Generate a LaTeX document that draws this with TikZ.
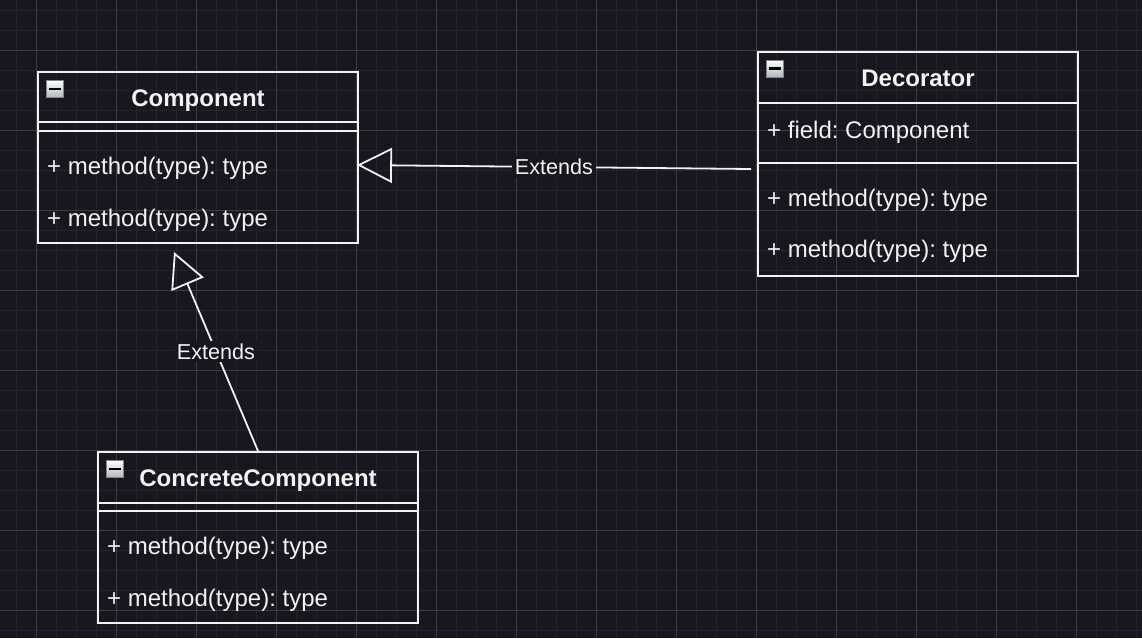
\documentclass[tikz,border=0pt]{standalone}
\usepackage{fontspec}
\setmainfont{Liberation Sans}
\frenchspacing
\usetikzlibrary{arrows.meta}

\definecolor{canvasbg}{HTML}{18161E}
\definecolor{minorgrid}{HTML}{25242A}
\definecolor{majorgrid}{HTML}{3D3C40}
\definecolor{umlwhite}{HTML}{F2F2F2}
\definecolor{iconrim}{HTML}{7D8694}
\definecolor{iconshade}{HTML}{B4B6BA}

\tikzset{
	classbox/.style={draw=umlwhite,line width=2pt,minimum width=320pt,anchor=north west,inner sep=0pt},
	classsep/.style={draw=umlwhite,line width=2pt},
	classname/.style={anchor=base,inner sep=0pt,text=umlwhite,font=\fontsize{24}{28}\selectfont\bfseries},
	member/.style={anchor=base west,inner sep=0pt,text=umlwhite,font=\fontsize{24}{28}\selectfont},
	fold/.style={draw=iconrim,line width=1pt,top color=white,bottom color=iconshade,minimum size=17pt,inner sep=0pt,
		path picture={\fill[black] ([xshift=-6pt,yshift=-1.3pt]path picture bounding box.center) rectangle ([xshift=6pt,yshift=1.3pt]path picture bounding box.center);}},
	extends/.style={draw=umlwhite,line width=1.8pt,-{Triangle[open,length=35pt,width=35pt]}},
	extlabel/.style={fill=canvasbg,inner sep=3pt,text=umlwhite,font=\fontsize{21.6}{26}\selectfont}
}

\begin{document}
\begin{tikzpicture}[x=1pt,y=-1pt]
\useasboundingbox (0,0) rectangle (1142,638);
\fill[canvasbg] (0,0) rectangle (1142,638);
\foreach \x in {16,36,...,1136} \draw[minorgrid,line width=1pt] (\x,0) -- (\x,638);
\foreach \y in {10,30,...,630} \draw[minorgrid,line width=1pt] (0,\y) -- (1142,\y);
\foreach \x in {36,116,...,1076} \draw[majorgrid,line width=1pt] (\x,0) -- (\x,638);
\foreach \y in {50,130,...,610} \draw[majorgrid,line width=1pt] (0,\y) -- (1142,\y);

\node[classbox,minimum height=171pt]	(comp)		at (37,71)	{};
\node[classbox,minimum height=224pt]	(deco)		at (757,51)	{};
\node[classbox,minimum height=171pt]	(concrete)	at (97,451)	{};

\draw[classsep] ([yshift=-51pt]comp.north west) -- ([yshift=-51pt]comp.north east);
\draw[classsep] ([yshift=-60pt]comp.north west) -- ([yshift=-60pt]comp.north east);
\draw[classsep] ([yshift=-52pt]deco.north west) -- ([yshift=-52pt]deco.north east);
\draw[classsep] ([yshift=-112pt]deco.north west) -- ([yshift=-112pt]deco.north east);
\draw[classsep] ([yshift=-52pt]concrete.north west) -- ([yshift=-52pt]concrete.north east);
\draw[classsep] ([yshift=-60pt]concrete.north west) -- ([yshift=-60pt]concrete.north east);

\node[fold]	(comp_fold)	at ([xshift=18pt,yshift=-18pt]comp.north west)		{};
\node[fold]	(deco_fold)	at ([xshift=18pt,yshift=-17.5pt]deco.north west)	{};
\node[fold]	(concrete_fold)	at ([xshift=18pt,yshift=-18pt]concrete.north west)	{};

\node[classname]	(comp_name)	at ([yshift=-35pt]comp.north)		{Component};
\node[classname]	(deco_name)	at ([yshift=-35pt]deco.north)		{Decorator};
\node[classname]	(concrete_name)	at ([yshift=-35pt]concrete.north)	{ConcreteComponent};

\node[member]	(comp_m1)	at ([xshift=10pt,yshift=-103pt]comp.north west)		{+ method(type): type};
\node[member]	(comp_m2)	at ([xshift=10pt,yshift=-155pt]comp.north west)		{+ method(type): type};
\node[member]	(deco_f1)	at ([xshift=10pt,yshift=-87pt]deco.north west)		{+ field: Component};
\node[member]	(deco_m1)	at ([xshift=10pt,yshift=-155pt]deco.north west)		{+ method(type): type};
\node[member]	(deco_m2)	at ([xshift=10pt,yshift=-206pt]deco.north west)		{+ method(type): type};
\node[member]	(concrete_m1)	at ([xshift=10pt,yshift=-103pt]concrete.north west)	{+ method(type): type};
\node[member]	(concrete_m2)	at ([xshift=10pt,yshift=-155pt]concrete.north west)	{+ method(type): type};

\draw[extends]	([xshift=-6pt,yshift=-118pt]deco.north west)	-- node[extlabel]	{Extends}	([xshift=-2pt,yshift=-94pt]comp.north east);
\draw[extends]	(concrete.north)				-- node[extlabel]	{Extends}	([xshift=-24pt,yshift=-8pt]comp.south);
\end{tikzpicture}
\end{document}
